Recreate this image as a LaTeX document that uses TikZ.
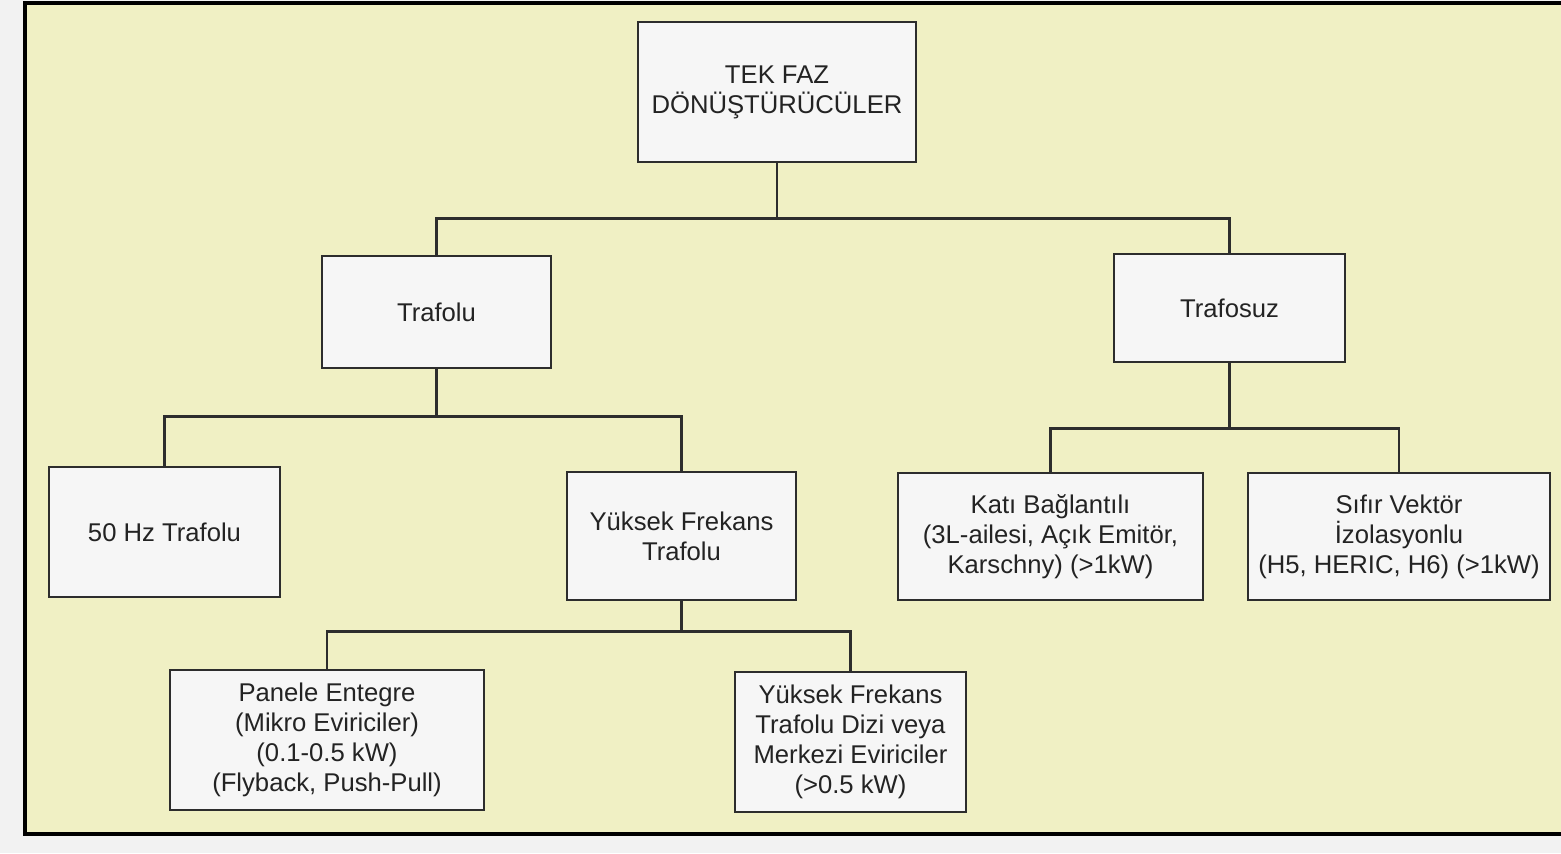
\documentclass[tikz,border=0pt]{standalone}
\usepackage{fontspec}
\setmainfont{Liberation Sans}
\definecolor{outbg}{RGB}{242,242,242}
\definecolor{panel}{RGB}{240,240,196}
\definecolor{boxfill}{RGB}{246,246,246}
\definecolor{boxline}{RGB}{45,45,45}
\definecolor{txt}{RGB}{35,35,35}
\begin{document}
\begin{tikzpicture}[x=0.02cm,y=-0.02cm,
  box/.style={draw=boxline,fill=boxfill,line width=1.6pt,rectangle,inner sep=0pt,
    align=center,text=txt,font=\fontsize{14.6pt}{17pt}\selectfont},
  link/.style={draw=boxline,line width=1.6pt}]
\useasboundingbox (0,0) rectangle (1561,853);
\fill[outbg] (0,0) rectangle (1561,853);
\fill[panel] (25,3) rectangle (1561,834);
\draw[line width=2.8pt,black] (1561,3) -- (25,3) -- (25,834) -- (1561,834);

\node[box,minimum width=278*0.02cm,minimum height=140*0.02cm] (top) at (777,92) {TEK FAZ\\DÖNÜŞTÜRÜCÜLER};
\node[box,minimum width=229*0.02cm,minimum height=112*0.02cm] (trafolu) at (436.5,312) {Trafolu};
\node[box,minimum width=231*0.02cm,minimum height=108*0.02cm] (trafosuz) at (1229.5,308) {Trafosuz};
\node[box,minimum width=231*0.02cm,minimum height=130*0.02cm] (hz) at (164.5,532) {50 Hz Trafolu};
\node[box,minimum width=229*0.02cm,minimum height=128*0.02cm] (yf) at (681.5,536) {Yüksek Frekans\\Trafolu};
\node[box,minimum width=305*0.02cm,minimum height=127*0.02cm] (kati) at (1050.5,536.5) {Katı Bağlantılı\\(3L-ailesi, Açık Emitör,\\Karschny) (>1kW)};
\node[box,minimum width=302*0.02cm,minimum height=127*0.02cm] (sifir) at (1399,536.5) {Sıfır Vektör\\İzolasyonlu\\(H5, HERIC, H6) (>1kW)};
\node[box,minimum width=314*0.02cm,minimum height=140*0.02cm] (panele) at (327,740) {Panele Entegre\\(Mikro Eviriciler)\\(0.1-0.5 kW)\\(Flyback, Push-Pull)};
\node[box,minimum width=231*0.02cm,minimum height=140*0.02cm] (yfd) at (850.5,742) {Yüksek Frekans\\Trafolu Dizi veya\\Merkezi Eviriciler\\(>0.5 kW)};

\draw[link] (top.south) -- ++(0,55) -| (trafolu.north);
\draw[link] (top.south) -- ++(0,55) -| (trafosuz.north);
\draw[link] (trafolu.south) -- ++(0,47) -| (hz.north);
\draw[link] (trafolu.south) -- ++(0,47) -| (yf.north);
\draw[link] (trafosuz.south) -- ++(0,65) -| (kati.north);
\draw[link] (trafosuz.south) -- ++(0,65) -| (sifir.north);
\draw[link] (yf.south) -- ++(0,30) -| (panele.north);
\draw[link] (yf.south) -- ++(0,30) -| (yfd.north);
\end{tikzpicture}
\end{document}
